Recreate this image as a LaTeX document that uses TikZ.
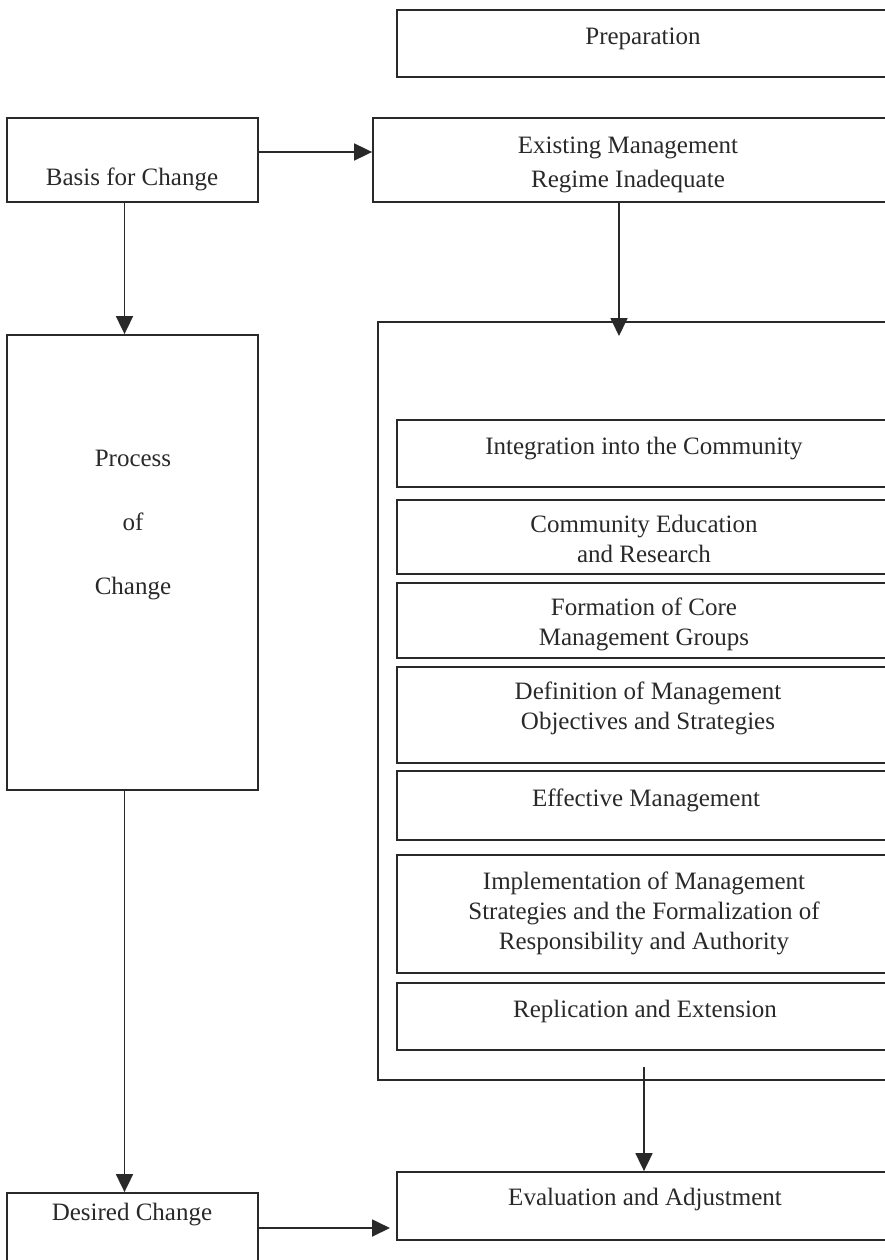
\documentclass[tikz,border=0pt]{standalone}
\usepackage{fontspec}
\setmainfont{Liberation Serif}
\usetikzlibrary{arrows.meta, fit}

\definecolor{ink}{gray}{0.16}
\tikzset{
	box/.style={draw=ink, line width=1.8pt, inner sep=0pt},
	lbl/.style={text=ink, font=\fontsize{25}{30}\selectfont, align=center, inner sep=0pt},
	flow/.style={draw=ink, line width=1.8pt, -{Triangle[length=18pt, width=17pt]}},
}

\begin{document}
\begin{tikzpicture}[x=1pt, y=-1pt]
	\useasboundingbox (0,0) rectangle (885,1260);
	
	\node [box, fit={(397,10) (890,77)}] (prep) {};
	\node [box, fit={(7,118) (258,202)}] (basis) {};
	\node [box, fit={(373,118) (890,202)}] (exist) {};
	\node [box, fit={(7,335) (258,790)}] (proc) {};
	\node [box, fit={(378,322) (890,1080)}] (frame) {};
	\node [box, fit={(397,420) (890,487)}] (integ) {};
	\node [box, fit={(397,500) (890,574)}] (educ) {};
	\node [box, fit={(397,583) (890,658)}] (core) {};
	\node [box, fit={(397,667) (890,763)}] (defn) {};
	\node [box, fit={(397,771) (890,840)}] (effm) {};
	\node [box, fit={(397,855) (890,973)}] (impl) {};
	\node [box, fit={(397,983) (890,1050)}] (repl) {};
	\node [box, fit={(397,1172) (890,1240)}] (eval) {};
	\node [box, fit={(7,1193) (258,1275)}] (desired) {};
	
	\node [lbl] (prep-t) at (643,39) {Preparation};
	\node [lbl] (basis-t) at (132,179) {Basis for Change};
	\node [lbl] (exist-t) at (628,165) {Existing Management\\[4pt]Regime Inadequate};
	\node [lbl] (proc-t) at (133,525) {Process\\[34pt]of\\[34pt]Change};
	\node [lbl] (integ-t) at (644,449) {Integration into the Community};
	\node [lbl] (educ-t) at (644,539) {Community Education\\and Research};
	\node [lbl] (core-t) at (644,624) {Formation of Core\\Management Groups};
	\node [lbl] (defn-t) at (648,708) {Definition of Management\\Objectives and Strategies};
	\node [lbl] (effm-t) at (646,800) {Effective Management};
	\node [lbl] (impl-t) at (644,913) {Implementation of Management\\Strategies and the Formalization of\\Responsibility and Authority};
	\node [lbl] (repl-t) at (645,1011) {Replication and Extension};
	\node [lbl] (eval-t) at (645,1199) {Evaluation and Adjustment};
	\node [lbl] (desired-t) at (132,1215) {Desired Change};
	
	\coordinate (in) at (619,336);
	\coordinate (out) at (644,1067);
	\coordinate (d) at (390,1228);
	
	\draw [flow] ([yshift=8]basis.east) -- ([yshift=8]exist.west);
	\draw [flow] ([xshift=-8]basis.south) -- ([xshift=-8]proc.north);
	\draw [flow] (exist.south -| in) -- (in);
	\draw [flow] ([xshift=-8]proc.south) -- ([xshift=-8]desired.north);
	\draw [flow] (out) -- (out |- eval.north);
	\draw [flow] (desired.east |- d) -- (d);
	
\end{tikzpicture}
\end{document}
